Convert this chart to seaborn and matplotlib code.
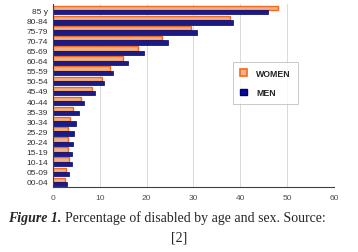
import numpy as np
import pandas as pd
import matplotlib
matplotlib.use("Agg")
import matplotlib.pyplot as plt
import seaborn as sns
from matplotlib.patches import Patch

ages = ["85 y", "80-84", "75-79", "70-74", "65-69", "60-64", "55-59", "50-54",
        "45-49", "40-44", "35-39", "30-34", "25-29", "20-24", "15-19", "10-14",
        "05-09", "00-04"]
women = [48.1, 37.8, 29.4, 23.2, 18.2, 15.0, 12.2, 10.4, 8.3, 6.0, 4.3, 3.6,
         3.2, 3.1, 3.3, 3.5, 2.8, 2.6]
men = [45.9, 38.5, 30.8, 24.6, 19.5, 16.0, 12.9, 10.8, 8.9, 6.6, 5.6, 4.9,
       4.4, 4.2, 4.0, 4.0, 3.4, 2.9]

df = pd.DataFrame({
    "age": ages * 2,
    "pct": women + men,
    "sex": ["WOMEN"] * len(ages) + ["MEN"] * len(ages),
})

sns.set_style("white")
plt.rcParams["font.family"] = ["Liberation Sans", "DejaVu Sans"]

fig = plt.figure(figsize=(3.58, 2.53), dpi=100)
ax = fig.add_axes([0.148, 0.257, 0.785, 0.723])

sns.barplot(data=df, y="age", x="pct", hue="sex", order=ages,
            hue_order=["WOMEN", "MEN"], orient="h", width=0.85,
            palette={"WOMEN": "#F9B080", "MEN": "#0A0A96"},
            ax=ax, errorbar=None, legend=False)

n = len(ages)
for i, p in enumerate(ax.patches):
    if i < n:
        p.set_edgecolor("#F26A1E")
        p.set_linewidth(1.0)
    else:
        p.set_edgecolor("#000070")
        p.set_linewidth(0.5)

ax.set_xlim(0, 60)
ax.set_xticks(range(0, 61, 10))
ax.set_ylim(n - 0.5, -0.6)
ax.grid(axis="x", color="#D9D9D9", linewidth=0.7)
ax.set_axisbelow(True)
for s in ["top", "right"]:
    ax.spines[s].set_visible(False)
for s in ["left", "bottom"]:
    ax.spines[s].set_color("#404040")
    ax.spines[s].set_linewidth(0.8)
ax.tick_params(axis="both", labelsize=6, colors="#404040", length=2,
               width=0.6, pad=1.5)
ax.tick_params(axis="x", labelcolor="#505050", pad=3)
ax.tick_params(axis="y", labelcolor="#303030")
ax.set_xlabel("")
ax.set_ylabel("")

handles = [Patch(facecolor="#F9B080", edgecolor="#F26A1E", linewidth=1.2),
           Patch(facecolor="#0A0A96", edgecolor="#000070")]
leg = ax.legend(handles, ["WOMEN", "MEN"], loc="upper left",
                bbox_to_anchor=(0.64, 0.685), frameon=True, fancybox=False,
                prop={"size": 6.3, "weight": "bold"}, handlelength=0.8,
                handleheight=0.8, labelspacing=1.2, borderpad=0.8,
                handletextpad=1.1, borderaxespad=0)
leg.get_frame().set_edgecolor("#B0B0B0")
leg.get_frame().set_linewidth(0.6)

t1 = fig.text(0.023, 0.138, "Figure 1.", ha="left", va="center", fontsize=10,
              family="Liberation Serif", weight="bold", style="italic")
fig.canvas.draw()
bb = t1.get_window_extent()
x1 = bb.x1 / fig.bbox.width
fig.text(x1 + 0.01, 0.138, "Percentage of disabled by age and sex. Source:",
         ha="left", va="center", fontsize=10, family="Liberation Serif")
fig.text(0.5, 0.058, "[2]", ha="center", va="center", fontsize=10,
         family="Liberation Serif")

fig.savefig("out.png", dpi=100)
